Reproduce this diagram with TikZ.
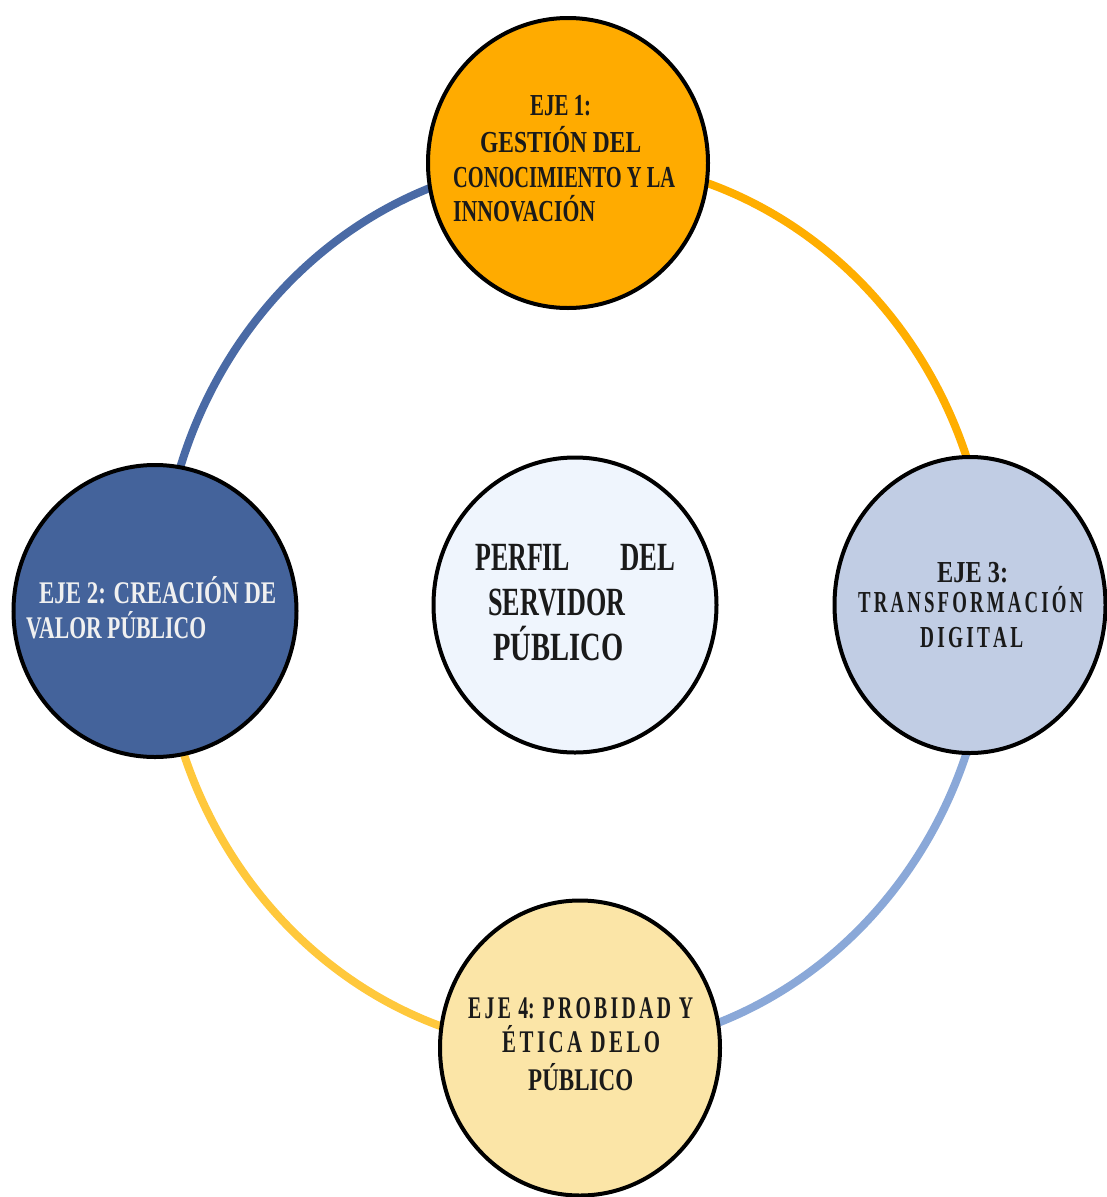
\documentclass[tikz,border=0pt]{standalone}
\usepackage{fontspec}
\setmainfont{Liberation Serif}
\usepackage{graphicx}
\usetikzlibrary{shapes.geometric}
\definecolor{cTop}{HTML}{FFAB00}
\definecolor{cLeft}{HTML}{44639B}
\definecolor{cRight}{HTML}{C1CDE4}
\definecolor{cBot}{HTML}{FBE5A7}
\definecolor{cMid}{HTML}{EFF5FD}
\definecolor{rTL}{HTML}{4A6AA5}
\definecolor{rTR}{HTML}{FFAE00}
\definecolor{rBR}{HTML}{8AA8D8}
\definecolor{rBL}{HTML}{FFC83C}
\definecolor{ink}{HTML}{1A1A1A}
\newcommand{\fitw}[2]{\resizebox{#1pt}{\height}{#2}}
\newcommand{\wsp}{\hspace{0.4em}}
\begin{document}
\begin{tikzpicture}[x=1pt,y=-1pt,
  ring/.style={line width=8pt},
  ax/.style={draw=black,line width=4pt,ellipse,inner sep=0pt},
  txt/.style={inner sep=0pt,anchor=base west,text=ink,font=\bfseries\fontsize{30.5}{36}\selectfont},
  txtw/.style={txt,text=white!94!black,font=\bfseries\fontsize{31.5}{37}\selectfont},
  txtb/.style={txt,font=\bfseries\fontsize{31.5}{37}\selectfont},
  txtc/.style={txt,font=\bfseries\fontsize{40}{46}\selectfont}]
\useasboundingbox (0,0) rectangle (1107,1197);
% ring
\coordinate (ringN) at (575,160);
\coordinate (ringW) at (160,605);
\coordinate (ringS) at (575,1050);
\coordinate (ringE) at (990,605);
\draw[ring,rTL] (ringN) arc[start angle=90,end angle=180,x radius=415,y radius=-445];
\draw[ring,rBL] (ringW) arc[start angle=180,end angle=270,x radius=415,y radius=-445];
\draw[ring,rBR] (ringS) arc[start angle=270,end angle=360,x radius=415,y radius=-445];
\draw[ring,rTR] (ringE) arc[start angle=0,end angle=90,x radius=415,y radius=-445];
% circles
\node[ax,fill=cTop,minimum width=280pt,minimum height=290pt] (eje1) at (568,163) {};
\node[ax,fill=cLeft,minimum width=283pt,minimum height=292pt] (eje2) at (155,611) {};
\node[ax,fill=cRight,minimum width=271pt,minimum height=296pt] (eje3) at (970,605) {};
\node[ax,fill=cBot,minimum width=280pt,minimum height=295pt] (eje4) at (580,1048) {};
\node[ax,fill=cMid,minimum width=283pt,minimum height=295pt] (perfil) at (575,605) {};
% texts eje 1
\node[txt] (t1a) at (530,115) {\fitw{61}{EJE 1:}};
\node[txt] (t1b) at (480,152) {\fitw{161}{GESTIÓN DEL}};
\node[txt] (t1c) at (453,187) {\fitw{222}{CONOCIMIENTO Y LA}};
\node[txt] (t1d) at (453,221) {\fitw{142}{INNOVACIÓN}};
% texts eje 2
\node[txtw] (t2a) at (39,603) {\fitw{237}{EJE 2: CREACIÓN DE}};
\node[txtw] (t2b) at (26,638) {\fitw{180}{VALOR PÚBLICO}};
% texts eje 3
\node[txt] (t3a) at (937,582) {\fitw{71}{EJE 3:}};
\node[txt] (t3b) at (858,612) {\fitw{225}{T\,R\,A\,N\,S\,F\,O\,R\,M\,A\,C\,I\,Ó\,N}};
\node[txt] (t3c) at (920,647) {\fitw{103}{D\,I\,G\,I\,T\,A\,L}};
% texts eje 4
\node[txtb] (t4a) at (468,1018) {\fitw{225}{E\,J\,E\hspace{0.12em} 4:\wsp P\,R\,O\,B\,I\,D\,A\,D\wsp Y}};
\node[txtb] (t4b) at (502,1052) {\fitw{158}{É\,T\,I\,C\,A\wsp D\,E\,L\,O}};
\node[txtb] (t4c) at (528,1090) {\fitw{105}{PÚBLICO}};
% center
\node[txtc] (pa) at (475,570) {\fitw{95}{PERFIL}};
\node[txtc] (pb) at (620,570) {\fitw{55}{DEL}};
\node[txtc] (pc) at (488,615) {\fitw{137}{SERVIDOR}};
\node[txtc] (pd) at (493,660) {\fitw{130}{PÚBLICO}};
\end{tikzpicture}
\end{document}
